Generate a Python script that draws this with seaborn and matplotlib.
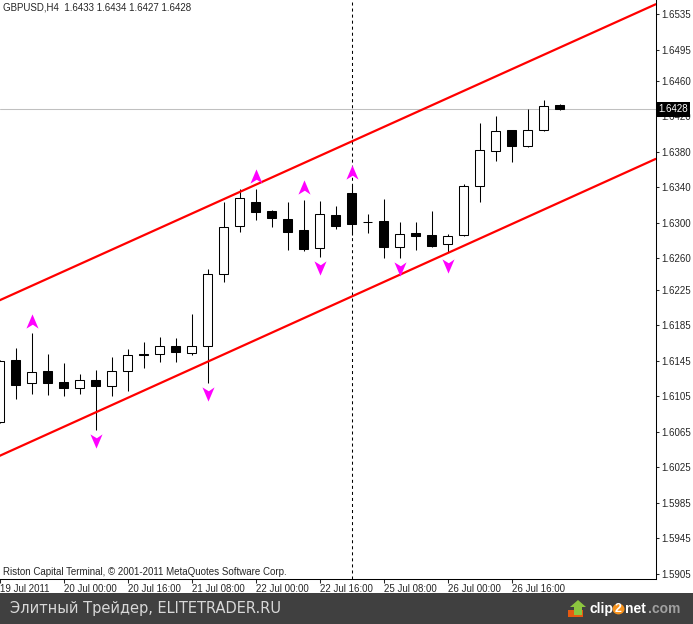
import pandas as pd
import seaborn as sns
import matplotlib.pyplot as plt
from matplotlib.path import Path
from matplotlib.patches import Rectangle, Polygon, Circle

# GBPUSD H4 bars, 19 Jul 2011 08:00 .. 26 Jul 2011 20:00
opens = [1.6076, 1.6146, 1.6120, 1.6133, 1.6121, 1.6114, 1.6123, 1.6117, 1.6133, 1.6153,
         1.6152, 1.6161, 1.6154, 1.6162, 1.6242, 1.6296, 1.6324, 1.6313, 1.6304, 1.6292,
         1.6272, 1.6309, 1.6334, 1.6301, 1.6302, 1.6273, 1.6289, 1.6286, 1.6276, 1.6286,
         1.6342, 1.6381, 1.6404, 1.6387, 1.6405, 1.6433]
highs = [1.6146, 1.6159, 1.6176, 1.6153, 1.6142, 1.6130, 1.6135, 1.6149, 1.6158, 1.6166,
         1.6172, 1.6170, 1.6197, 1.6248, 1.6323, 1.6338, 1.6338, 1.6315, 1.6324, 1.6326,
         1.6325, 1.6319, 1.6343, 1.6310, 1.6327, 1.6301, 1.6301, 1.6313, 1.6288, 1.6344,
         1.6412, 1.6420, 1.6405, 1.6428, 1.6438, 1.6434]
lows = [1.6075, 1.6102, 1.6108, 1.6106, 1.6105, 1.6107, 1.6067, 1.6105, 1.6111, 1.6137,
        1.6144, 1.6143, 1.6151, 1.6120, 1.6234, 1.6290, 1.6303, 1.6295, 1.6270, 1.6268,
        1.6262, 1.6293, 1.6286, 1.6289, 1.6261, 1.6261, 1.6270, 1.6273, 1.6267, 1.6285,
        1.6324, 1.6370, 1.6369, 1.6385, 1.6403, 1.6427]
closes = [1.6145, 1.6118, 1.6132, 1.6120, 1.6114, 1.6123, 1.6116, 1.6133, 1.6151, 1.6151,
          1.6161, 1.6155, 1.6161, 1.6243, 1.6295, 1.6328, 1.6312, 1.6305, 1.6290, 1.6271,
          1.6310, 1.6297, 1.6299, 1.6301, 1.6273, 1.6288, 1.6285, 1.6274, 1.6285, 1.6342,
          1.6382, 1.6403, 1.6386, 1.6404, 1.6432, 1.6428]

# fractals
fr_up_idx = [2, 16, 19, 22]
fr_up_val = [1.6190, 1.6353, 1.6340, 1.6357]
fr_dn_idx = [6, 13, 20, 25, 28]
fr_dn_val = [1.6055, 1.6108, 1.6249, 1.6248, 1.6252]

# channel
chan_x = [0, 41]
chan_upper = [1.6213, 1.6546]
chan_lower = [1.6038, 1.6372]

date_pos = [0.02, 4, 8, 12, 16, 20, 24, 28, 32]
date_labels = ['19 Jul 2011', '20 Jul 00:00', '20 Jul 16:00', '21 Jul 08:00', '22 Jul 00:00',
               '22 Jul 16:00', '25 Jul 08:00', '26 Jul 00:00', '26 Jul 16:00']
price_ticks = [1.6535, 1.6495, 1.6460, 1.6420, 1.6380, 1.6340, 1.6300, 1.6260, 1.6225,
               1.6185, 1.6145, 1.6105, 1.6065, 1.6025, 1.5985, 1.5945, 1.5905]
last_price = 1.6428
vline_bar = 22

sns.set_style('white')
plt.rcParams['font.family'] = ['Liberation Sans', 'DejaVu Sans']

df = pd.DataFrame({'open': opens, 'high': highs, 'low': lows, 'close': closes})
df['bar'] = range(len(df))
df['up'] = df.close >= df.open
df['bottom'] = df[['open', 'close']].min(axis=1)
df['size'] = (df.close - df.open).abs()

fig = plt.figure(figsize=(6.93, 6.24), dpi=100)
ax = fig.add_axes([0, 45 / 624, 656 / 693, 579 / 624])

ax.axhline(last_price, color='#c0c0c0', lw=0.75, zorder=1)
ax.axvline(vline_bar, color='black', lw=0.75, linestyle=(0, (2.9, 2.9)), zorder=1)

# candles
ax.vlines(df.bar, df.low, df.high, color='black', lw=0.75, zorder=2)
ax.bar(df.bar, df['size'], bottom=df.bottom, width=0.56,
       color=['white' if u else 'black' for u in df.up], edgecolor='black', lw=0.75, zorder=3)

# channel lines
sns.lineplot(x=chan_x, y=chan_upper, color='#ff0000', lw=1.6, ax=ax, zorder=4)
sns.lineplot(x=chan_x, y=chan_lower, color='#ff0000', lw=1.6, ax=ax, zorder=4)

# fractal arrows
up_arrow = Path([(0, 1), (0.85, -1), (0.05, -0.45), (-0.85, -1), (0, 1)],
                [Path.MOVETO, Path.LINETO, Path.LINETO, Path.LINETO, Path.CLOSEPOLY])
dn_arrow = Path([(0, -1), (0.85, 1), (0.05, 0.45), (-0.85, 1), (0, -1)],
                [Path.MOVETO, Path.LINETO, Path.LINETO, Path.LINETO, Path.CLOSEPOLY])
sns.scatterplot(x=fr_up_idx, y=fr_up_val, marker=up_arrow, s=105, color='#ff00ff',
                linewidth=0, ax=ax, zorder=5)
sns.scatterplot(x=fr_dn_idx, y=fr_dn_val, marker=dn_arrow, s=105, color='#ff00ff',
                linewidth=0, ax=ax, zorder=5)

ax.set_xlim(0.019, 41.02)
ax.set_ylim(1.58994, 1.65508)

for s in ['left', 'top']:
    ax.spines[s].set_visible(False)
for s in ['right', 'bottom']:
    ax.spines[s].set_linewidth(0.75)
    ax.spines[s].set_color('black')

ax.yaxis.tick_right()
ax.set_yticks(price_ticks)
ax.set_yticklabels([f'{v:.4f}' for v in price_ticks])
ax.tick_params(axis='y', length=2.5, width=0.75, pad=1.5, labelsize=7, direction='out', right=True, left=False)
ax.set_xticks(date_pos)
ax.set_xticklabels(date_labels)
ax.tick_params(axis='x', length=3, width=0.75, pad=0.5, labelsize=7, direction='out', bottom=True)
for lab in ax.get_xticklabels():
    lab.set_horizontalalignment('left')
ax.set_xlabel('')
ax.set_ylabel('')

ax.text(1.003, last_price, f'{last_price:.4f}', transform=ax.get_yaxis_transform(),
        ha='left', va='center', color='white', fontsize=7, clip_on=False, zorder=10,
        bbox=dict(boxstyle='square,pad=0.25', facecolor='black', edgecolor='none'))

ax.text(0.004, 1 - 3 / 579, 'GBPUSD,H4  1.6433 1.6434 1.6427 1.6428', transform=ax.transAxes,
        ha='left', va='top', fontsize=7)
ax.text(0.004, 7 / 579, 'Riston Capital Terminal, \u00a9 2001-2011 MetaQuotes Software Corp.',
        transform=ax.transAxes, ha='left', va='center', fontsize=7)

# bottom banner
fig.patches.append(Rectangle((0, 0), 1, 31 / 624, transform=fig.transFigure,
                             facecolor='#404040', edgecolor='none', zorder=0))
fig.text(10 / 693, 1 - 609 / 624, 'Элитный Трейдер, ELITETRADER.RU', color='#d8d8d8',
         fontsize=10.5, family='DejaVu Sans', ha='left', va='center')

fy = lambda y: 1 - y / 624
fx = lambda x: x / 693
fig.patches.append(Polygon([(fx(568), fy(617)), (fx(583), fy(617)), (fx(583), fy(610)), (fx(568), fy(610))],
                           transform=fig.transFigure, facecolor='#e85a10', edgecolor='none'))
fig.patches.append(Polygon([(fx(578), fy(600)), (fx(586), fy(607)), (fx(582), fy(607)), (fx(582), fy(615)),
                            (fx(574), fy(615)), (fx(574), fy(607)), (fx(570), fy(607))],
                           transform=fig.transFigure, facecolor='#8cc63f', edgecolor='none'))
fig.patches.append(Circle((fx(618.5), fy(609)), 6 / 693, transform=fig.transFigure,
                          facecolor='#f7931e', edgecolor='none'))
fig.text(fx(589), fy(609), 'clip', color='white', fontsize=10, fontweight='bold', ha='left', va='center')
fig.text(fx(618.5), fy(609), '2', color='white', fontsize=9, fontweight='bold', ha='center', va='center')
fig.text(fx(625), fy(609), 'net', color='white', fontsize=10, fontweight='bold', ha='left', va='center')
fig.text(fx(648), fy(609), '.com', color='#a0a0a0', fontsize=10, fontweight='bold', ha='left', va='center')

fig.savefig('out.png', dpi=100)
